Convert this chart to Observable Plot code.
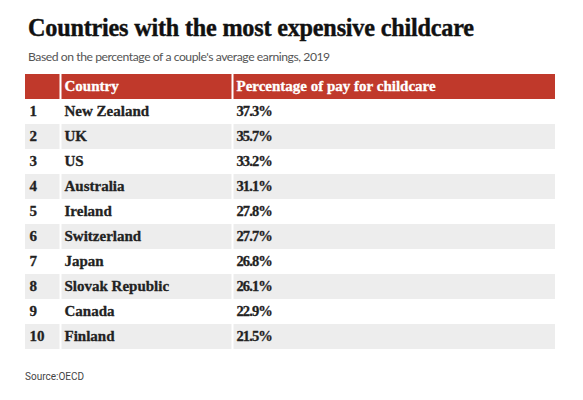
<!DOCTYPE html>
<html>
<head>
<meta charset="utf-8">
<script src="https://cdn.jsdelivr.net/npm/d3@7"></script>
<script src="https://cdn.jsdelivr.net/npm/@observablehq/plot@0.6"></script>
<style>
  html, body { margin: 0; padding: 0; background: #fff; width: 583px; height: 400px; overflow: hidden; }
  #title { position: absolute; left: 28px; top: 16px; font-family: "Liberation Serif", serif; font-weight: bold; font-size: 24.2px; color: #111; white-space: nowrap; letter-spacing: -0.2px; line-height: 1; -webkit-text-stroke: 0.4px #111; }
  #subtitle { position: absolute; left: 28px; top: 51px; font-family: Lato, sans-serif; font-size: 12.2px; letter-spacing: -0.45px; color: #555; white-space: nowrap; line-height: 1; }
  #chart { position: absolute; left: 0; top: 74px; line-height: 0; }
  #chart svg { display: block; }
  #caption { position: absolute; left: 25px; top: 372px; font-family: Roboto, sans-serif; font-size: 10px; color: #444; white-space: nowrap; line-height: 1; }
</style>
</head>
<body>
<div id="title">Countries with the most expensive childcare</div>
<div id="subtitle">Based on the percentage of a couple's average earnings, 2019</div>
<div id="chart"></div>
<div id="caption">Source:OECD</div>
<script>
const ranks = ["1", "2", "3", "4", "5", "6", "7", "8", "9", "10"];
const countries = ["New Zealand", "UK", "US", "Australia", "Ireland", "Switzerland", "Japan", "Slovak Republic", "Canada", "Finland"];
const percentages = [37.3, 35.7, 33.2, 31.1, 27.8, 27.7, 26.8, 26.1, 22.9, 21.5];
const headers = ["", "Country", "Percentage of pay for childcare"];

// Layout (column boundaries in table units)
const colStart = [0, 35, 207];
const colEnd = [35, 207, 530];
const rowKeys = ["header", ...ranks];

const rows = ranks.map((r, i) => ({rank: r, country: countries[i], pct: percentages[i], i}));

const cells = [];
rows.forEach(d => {
  for (let c = 0; c < 3; c++) cells.push({key: d.rank, c, fill: d.i % 2 === 1 ? "#ededed" : "#ffffff"});
});
const headCells = headers.map((h, c) => ({key: "header", c, label: h}));

const labels = [];
const pcts = [];
rows.forEach(d => {
  labels.push({key: d.rank, c: 0, label: d.rank});
  labels.push({key: d.rank, c: 1, label: d.country});
  pcts.push({key: d.rank, c: 2, label: d.pct.toFixed(1) + "%"});
});

const font = "Liberation Serif";
const textOpts = {dx: 4, dy: -1, textAnchor: "start", fill: "#222", fontFamily: font, fontWeight: "bold", fontSize: 15, stroke: "#222", strokeWidth: 0.3};

const chart = Plot.plot({
  width: 583,
  height: 275,
  marginLeft: 25,
  marginRight: 28,
  marginTop: 0,
  marginBottom: 0,
  x: {domain: [0, 530], axis: null},
  y: {domain: rowKeys, padding: 0, axis: null, round: false},
  style: {background: "white"},
  marks: [
    Plot.barX(headCells, {x1: d => colStart[d.c], x2: d => colEnd[d.c], y: "key", fill: "#c0392b"}),
    Plot.barX(cells, {x1: d => colStart[d.c], x2: d => colEnd[d.c], y: "key", fill: "fill"}),
    // white column separators
    Plot.ruleX([colStart[1], colStart[2]], {stroke: "white", strokeWidth: 2}),
    Plot.text(headCells, {x: d => colStart[d.c], y: "key", text: "label", ...textOpts, fill: "white", stroke: "white"}),
    Plot.text(labels, {x: d => colStart[d.c], y: "key", text: "label", ...textOpts}),
    Plot.text(pcts, {x: d => colStart[d.c], y: "key", text: "label", ...textOpts, fontSize: 14.5, render: (index, scales, values, dims, ctx, next) => {
      const g = next(index, scales, values, dims, ctx);
      g.setAttribute("letter-spacing", "-0.9");
      return g;
    }})
  ]
});
document.getElementById("chart").appendChild(chart);
</script>
</body>
</html>
